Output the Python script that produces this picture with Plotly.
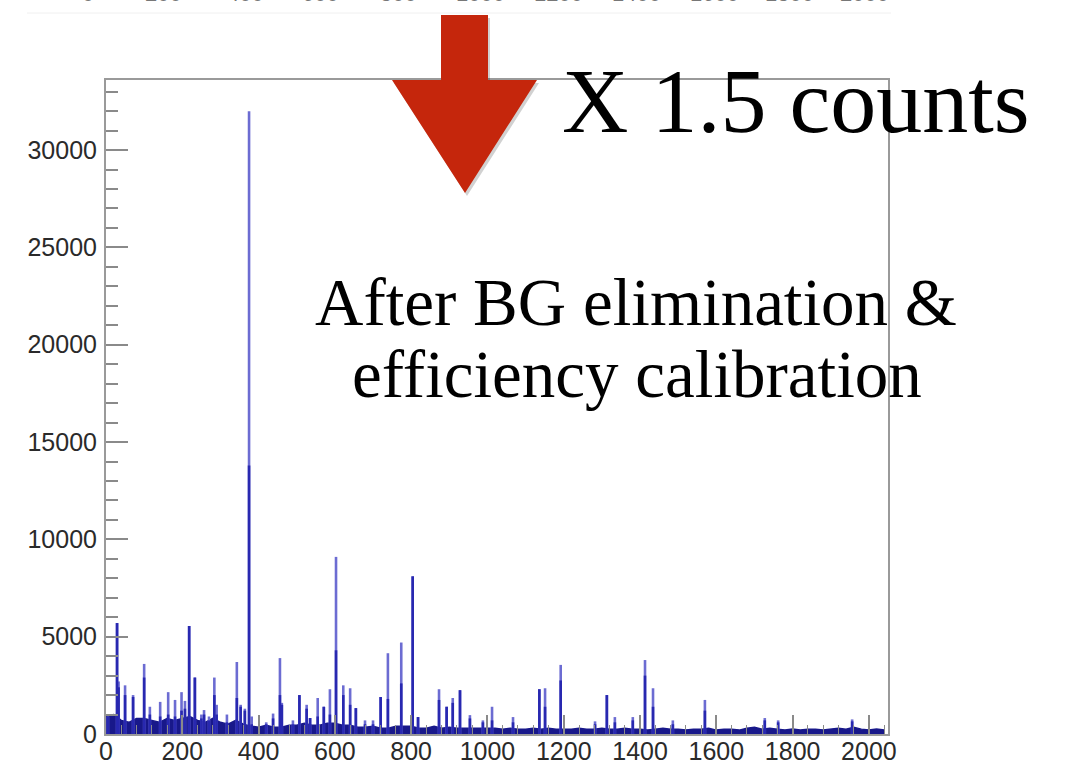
import plotly.graph_objects as go

# ---------------- data ----------------
peak_channel = [5, 29, 33, 50, 71, 100, 115, 142, 163, 181, 198, 207, 218, 233, 250, 257,
                270, 284, 290, 317, 343, 353, 364, 375, 382, 420, 438, 456, 461, 490, 507,
                526, 535, 555, 571, 587, 603, 622, 640, 655, 679, 700, 720, 739, 774, 804,
                818, 873, 893, 909, 928, 954, 988, 1012, 1067, 1136, 1151, 1192, 1282, 1313,
                1334, 1381, 1413, 1434, 1486, 1570, 1727, 1762, 1956]
peak_counts = [900, 5700, 2700, 2500, 2000, 3600, 1400, 1650, 2150, 1750, 2150, 1700, 5550, 2900, 1000, 1230,
               900, 2900, 1500, 1000, 3700, 1500, 1300, 32000, 900, 600, 1050, 3900, 1600, 700, 2000,
               1500, 820, 1850, 1400, 2300, 9100, 2500, 2350, 1330, 700, 700, 1900, 4150, 4700, 8100,
               870, 2300, 1400, 1850, 2250, 970, 700, 1400, 870, 2300, 2350, 3550, 650, 2000,
               870, 870, 3800, 2350, 700, 1750, 820, 700, 750]
peak_core = [900, 5700, 2400, 2000, 1900, 2900, 1000, 900, 1000, 900, 1200, 1300, 5550, 2900, 800, 1000,
             700, 2000, 1000, 600, 1850, 1400, 1200, 13800, 500, 500, 800, 2000, 1500, 500, 2000,
             1300, 820, 900, 1400, 1000, 4300, 2000, 1500, 1330, 500, 500, 1900, 1800, 2600, 8100,
             870, 1750, 1400, 1600, 2250, 800, 600, 700, 600, 2300, 1400, 2750, 500, 2000,
             600, 700, 3000, 1400, 500, 1200, 700, 600, 650]

base_channel = list(range(0, 2060, 20))
base_counts = [900, 1000, 700, 600, 800, 800, 700, 600, 800, 700,
               800, 900, 700, 600, 800, 600, 500, 700, 500, 400,
               350, 450, 350, 350, 450, 450, 550, 450, 450, 550,
               550, 450, 450, 350, 350, 400, 300, 300, 400, 400,
               400, 300, 300, 400, 300, 350, 300, 300, 300, 300,
               300, 300, 250, 300, 250, 250, 300, 250, 300, 250,
               250, 250, 300, 250, 250, 300, 250, 250, 300, 250,
               250, 200, 250, 300, 250, 250, 200, 250, 250, 300,
               200, 250, 250, 200, 300, 350, 250, 300, 250, 200,
               250, 200, 250, 250, 200, 250, 300, 250, 350, 250,
               200, 250, 200]

top_labels = ["0", "200", "400", "600", "800", "1000", "1200", "1400", "1600", "1800", "2000"]
top_label_px = [88, 163, 245, 320, 398, 480, 558, 636, 714, 789, 864]

# ---------------- layout geometry ----------------
W, H = 1067, 763
L, R, T, B = 106, 888, 80, 734
PW, PH = R - L, B - T


def px(x):
    return (x - L) / PW


def py(y):
    return (B - y) / PH


def spikes(xs, ys):
    X, Y = [], []
    for x, y in zip(xs, ys):
        X += [x, x, None]
        Y += [0, y, None]
    return X, Y


fig = go.Figure()

fig.add_trace(go.Scatter(x=base_channel, y=base_counts, mode="lines",
                         line=dict(color="#18188a", width=1.5), fill="tozeroy",
                         fillcolor="#18188a", hoverinfo="skip", showlegend=False))
lx, ly = spikes(peak_channel, peak_counts)
fig.add_trace(go.Scatter(x=lx, y=ly, mode="lines", line=dict(color="#6c6cd2", width=2.6),
                         hoverinfo="skip", showlegend=False))
cx, cy = spikes(peak_channel, peak_core)
fig.add_trace(go.Scatter(x=cx, y=cy, mode="lines", line=dict(color="#2828b0", width=2.6),
                         hoverinfo="skip", showlegend=False))

axis_common = dict(showline=True, mirror=True, linecolor="#9a9a9a", linewidth=2,
                   showgrid=False, zeroline=False, ticks="inside", tickcolor="#8a8a8a",
                   tickwidth=2, tickformat="d", automargin=False,
                   tickfont=dict(family="Liberation Sans, Arial", size=25, color="#2a2a2a"))

fig.update_layout(
    width=W, height=H,
    margin=dict(l=L, r=W - R, t=T, b=H - B),
    paper_bgcolor="white", plot_bgcolor="white",
    xaxis=dict(range=[0, 2050], tickvals=[0, 200, 400, 600, 800, 1000, 1200, 1400, 1600, 1800, 2000],
               ticklen=19, ticklabelstandoff=-6,
               minor=dict(dtick=40, ticklen=9, ticks="inside", tickcolor="#8a8a8a", tickwidth=1),
               **axis_common),
    yaxis=dict(range=[0, 33600], tickvals=[0, 5000, 10000, 15000, 20000, 25000, 30000],
               ticklen=22, ticklabelstandoff=2,
               minor=dict(dtick=1000, ticklen=12, ticks="inside", tickcolor="#8a8a8a", tickwidth=2),
               **axis_common),
)

# faint line and cut-off labels at the very top (remains of another chart)
fig.add_shape(type="line", xref="paper", yref="paper", x0=px(27), x1=px(891), y0=py(13), y1=py(13),
              line=dict(color="#f0f0f0", width=1))
for t, p in zip(top_labels, top_label_px):
    fig.add_annotation(text=t, xref="paper", yref="paper", x=px(p), y=py(8), xanchor="center",
                       yanchor="bottom", showarrow=False,
                       font=dict(family="Liberation Sans, Arial", size=22, color="#777777"))


# big red arrow
def arrow_path(dx=0, dy=0):
    pts = [(441, 15), (488, 15), (488, 80), (537, 80), (465, 193), (392, 80), (441, 80)]
    s = "M " + " L ".join(f"{px(a + dx):.5f},{py(b + dy):.5f}" for a, b in pts) + " Z"
    return s


fig.add_shape(type="path", xref="paper", yref="paper", path=arrow_path(2, 3),
              fillcolor="rgba(0,0,0,0.18)", line=dict(width=0))
fig.add_shape(type="path", xref="paper", yref="paper", path=arrow_path(),
              fillcolor="#c5260c", line=dict(width=0))

serif = "Liberation Serif, Times New Roman, serif"
fig.add_annotation(text="X 1.5 counts", xref="paper", yref="paper", x=px(796), y=py(101),
                   xanchor="center", yanchor="middle",
                   showarrow=False, font=dict(family=serif, size=92, color="black"))
fig.add_annotation(text="After BG elimination &", xref="paper", yref="paper", x=px(636), y=py(302),
                   xanchor="center", yanchor="middle",
                   showarrow=False, font=dict(family=serif, size=67, color="black"))
fig.add_annotation(text="efficiency calibration", xref="paper", yref="paper", x=px(637), y=py(374),
                   xanchor="center", yanchor="middle",
                   showarrow=False, font=dict(family=serif, size=67, color="black"))

fig.write_html("out.html")
